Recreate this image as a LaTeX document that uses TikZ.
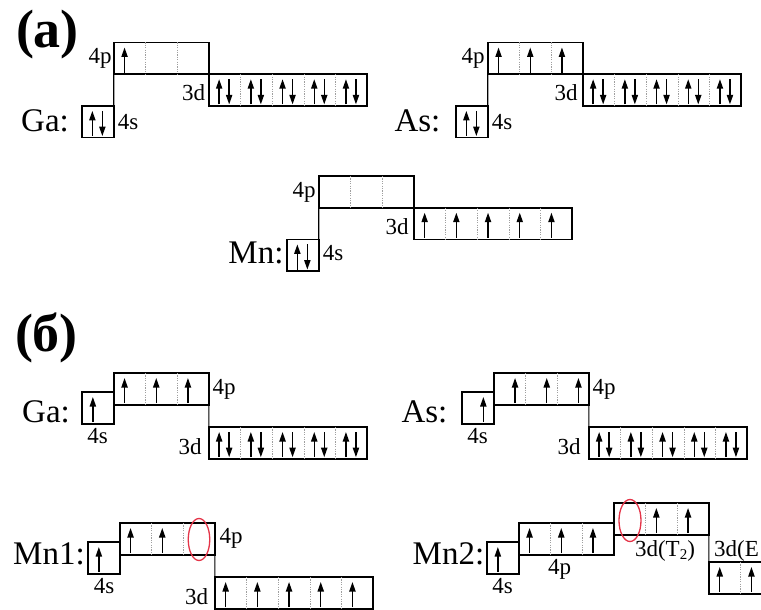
\documentclass[tikz,border=0pt]{standalone}
\usepackage{fontspec}
\setmainfont{Liberation Serif}
\usetikzlibrary{arrows.meta,calc,shapes.geometric}

\definecolor{holered}{RGB}{228,52,72}
\newcommand\cw{31.7}

\tikzset{
  orbbox/.style={draw, line width=1.7pt, rectangle, inner sep=0pt, outer sep=0pt,
                 minimum height=31.7pt},
  divline/.style={draw=gray!75, line width=0.8pt, dash pattern=on 1.2pt off 1.2pt},
  spin/.style={line width=1.4pt, -{Triangle[length=9.5pt,width=6.2pt]}},
  link/.style={line width=1.1pt},
  lbl/.style={font=\fontsize{23}{23}\selectfont, inner sep=0pt},
  elem/.style={font=\fontsize{33}{33}\selectfont, inner sep=0pt},
  part/.style={font=\fontsize{54}{54}\selectfont\bfseries, inner sep=0pt},
  hole/.style={draw=holered, line width=1.3pt, ellipse, inner sep=0pt}
}

% \orbital{name}{left x}{top y}{cells}{spins: p = pair, u = up (left), r = up (right), e = empty}
\newcommand\orbital[5]{%
  \node[orbbox, minimum width={(#4*\cw)*1pt}, anchor=north west] (#1) at (#2,#3) {};
  \ifnum#4>1
    \pgfmathtruncatemacro\lastdiv{#4-1}%
    \foreach \i in {1,...,\lastdiv}{
      \draw[divline] ($(#1.north west)+({\i*\cw},0)$) -- ($(#1.south west)+({\i*\cw},0)$);
    }%
  \fi
  \foreach \k [count=\i] in {#5}{
    \pgfmathsetmacro\cx{#2+(\i-0.5)*\cw}
    \if p\k
      \draw[spin] (\cx-5.5,#3+\cw-1.5) -- (\cx-5.5,#3+5);
      \draw[spin] (\cx+4.5,#3+5) -- (\cx+4.5,#3+\cw-1.5);
    \fi
    \if u\k \draw[spin] (\cx-5,#3+\cw-1.5) -- (\cx-5,#3+5); \fi
    \if r\k \draw[spin] (\cx+5.5,#3+\cw-1.5) -- (\cx+5.5,#3+5); \fi
  }%
}

\begin{document}
\begin{tikzpicture}[x=1pt, y=-1pt]
\useasboundingbox (0,0) rectangle (761,610);
\clip (0,0) rectangle (761,610);

% ---------------- part (a): ground states ----------------
\node[part] (parta) at (47.5,35) {(a)};

% Ga
\orbital{gaA4s}{82}{105.9}{1}{p}
\orbital{gaA4p}{113.7}{42.5}{3}{u,e,e}
\orbital{gaA3d}{208.8}{74.2}{5}{p,p,p,p,p}
\draw[link] (gaA4s.north east) -- (gaA4p.south west);
\node[elem] (gaAname) at (45,120.5) {Ga:};
\node[lbl] (gaA4pl) at (100,58.5) {4p};
\node[lbl] (gaA3dl) at (193.5,92.5) {3d};
\node[lbl] (gaA4sl) at (128,122.5) {4s};

% As
\orbital{asA4s}{456}{105.9}{1}{p}
\orbital{asA4p}{487.7}{42.5}{3}{u,u,u}
\orbital{asA3d}{582.8}{74.2}{5}{p,p,p,p,p}
\draw[link] (asA4s.north east) -- (asA4p.south west);
\node[elem] (asAname) at (417.5,120.5) {As:};
\node[lbl] (asA4pl) at (473,58.5) {4p};
\node[lbl] (asA3dl) at (566,92.5) {3d};
\node[lbl] (asA4sl) at (502,122.5) {4s};

% Mn
\orbital{mnA4s}{287}{239.4}{1}{p}
\orbital{mnA4p}{318.7}{176}{3}{e,e,e}
\orbital{mnA3d}{413.8}{207.7}{5}{u,u,u,u,u}
\draw[link] (mnA4s.north east) -- (mnA4p.south west);
\node[elem] (mnAname) at (256,252.5) {Mn:};
\node[lbl] (mnA4pl) at (304,192) {4p};
\node[lbl] (mnA3dl) at (397,226.5) {3d};
\node[lbl] (mnA4sl) at (333,253.5) {4s};

% ---------------- part (б): states in the crystal ----------------
\node[part] (partb) at (46.5,338) {(б)};

% Ga
\orbital{gaB4s}{82}{392}{1}{u}
\orbital{gaB4p}{113.7}{373}{3}{u,u,u}
\orbital{gaB3d}{208.8}{427}{5}{p,p,p,p,p}
\draw[link] (gaB4p.south east) -- (gaB3d.north west);
\node[elem] (gaBname) at (46,411.5) {Ga:};
\node[lbl] (gaB4pl) at (224,389.5) {4p};
\node[lbl] (gaB3dl) at (190,446.5) {3d};
\node[lbl] (gaB4sl) at (97.5,436) {4s};

% As
\orbital{asB4s}{462}{392}{1}{r}
\orbital{asB4p}{493.7}{373}{3}{r,r,r}
\orbital{asB3d}{588.8}{427}{5}{p,p,p,p,p}
\draw[link] (asB4p.south east) -- (asB3d.north west);
\node[elem] (asBname) at (424.5,411.5) {As:};
\node[lbl] (asB4pl) at (604,389.5) {4p};
\node[lbl] (asB3dl) at (569,446.5) {3d};
\node[lbl] (asB4sl) at (477.5,436) {4s};

% Mn1
\orbital{mnOne4s}{88}{542}{1}{u}
\orbital{mnOne4p}{119.7}{523}{3}{u,u,e}
\orbital{mnOne3d}{214.8}{577}{5}{u,u,u,u,u}
\draw[link] (mnOne4p.south east) -- (mnOne3d.north west);
\node[hole, minimum width=21.5pt, minimum height=42pt] (holeOne) at (199,539.5) {};
\node[elem] (mnOneName) at (49,553.5) {Mn1:};
\node[lbl] (mnOne4pl) at (231,538.5) {4p};
\node[lbl] (mnOne3dl) at (196.5,597) {3d};
\node[lbl] (mnOne4sl) at (104,586) {4s};

% Mn2
\orbital{mnTwo4s}{487}{542}{1}{u}
\orbital{mnTwo4p}{518.7}{523}{3}{u,u,u}
\orbital{mnTwoT}{613.8}{503}{3}{e,u,u}
\orbital{mnTwoE}{708.9}{562}{2}{u,u}
\draw[link] (mnTwoT.south east) -- (mnTwoE.north west);
\node[hole, minimum width=22pt, minimum height=42pt] (holeTwo) at (630,520.5) {};
\node[elem] (mnTwoName) at (448.5,553.5) {Mn2:};
\node[lbl] (mnTwo4pl) at (559.5,569.5) {4p};
\node[lbl] (mnTwo4sl) at (502.5,586) {4s};
\node[lbl, anchor=base] (mnTwoTl) at (665,556)
  {3d(T\raisebox{-0.3ex}{\fontsize{15}{15}\selectfont 2})};
\node[lbl, anchor=base west] (mnTwoEl) at (714,556) {3d(E};
\end{tikzpicture}
\end{document}
